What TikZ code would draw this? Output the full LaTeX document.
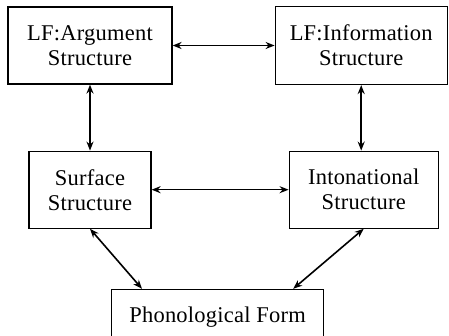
\documentclass[tikz,border=0pt]{standalone}
\usepackage{fontspec}
\setmainfont{Liberation Serif}[LetterSpace=1]
\usetikzlibrary{positioning, arrows.meta}

\begin{document}
\begin{tikzpicture}[
    box/.style={draw, line width=1.2pt, minimum height=77pt, align=center, inner sep=0pt, font=\fontsize{22.5}{25}\selectfont},
    arr/.style={{Stealth[length=9pt, width=7pt]}-{Stealth[length=9pt, width=7pt]}, line width=1.6pt}
]
\useasboundingbox (0,0) rectangle (449pt,-336pt);

% LF boxes
\node[box, minimum width=164pt] (arg) at (90pt,-45.5pt) {LF:Argument\\Structure};
\node[box, minimum width=172pt, minimum height=78pt, right=102pt of arg] (info) {LF:Information\\Structure};

% middle row
\node[box, minimum width=122pt, below=66pt of arg] (surf) {Surface\\Structure};
\node[box, minimum width=149pt, right=137pt of surf] (inton) {Intonational\\Structure};

% PF
\node[box, minimum width=212pt, minimum height=56pt, below right=60pt and 21pt of surf.south] (phon) {Phonological Form};

\draw[arr] (arg.east) -- (info.west);
\draw[arr] (arg.south) -- (surf.north);
\draw[arr] (info.south) -- (info.south |- inton.north);
\draw[arr] (surf.east) -- (inton.west);
\draw[arr] (surf.south) -- ([xshift=31pt]phon.north west);
\draw[arr] (inton.south) -- ([xshift=-31pt]phon.north east);

\end{tikzpicture}
\end{document}
